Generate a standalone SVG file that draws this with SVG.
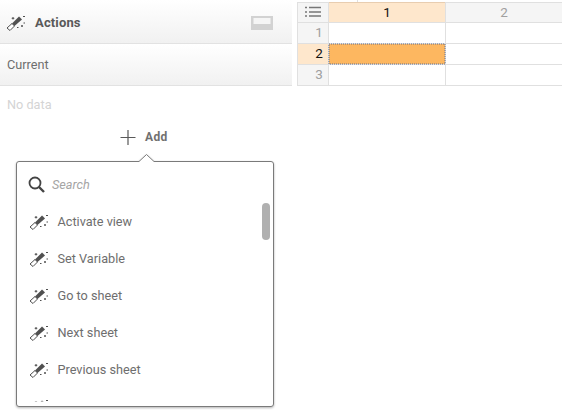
<svg xmlns="http://www.w3.org/2000/svg" width="562" height="411" viewBox="0 0 562 411">
<style>
text{font-family:"Roboto","Liberation Sans",sans-serif}
.item{font-size:12.7px;fill:#6e6e6e}
.hdr{font-size:13.5px;fill:#a0a0a0;text-anchor:middle}
.sel{fill:#111}
.gl{stroke:#e0e0e0;stroke-width:1;fill:none}
</style>
<defs>
<linearGradient id="g" x1="0" y1="0" x2="0" y2="1"><stop offset="0" stop-color="#fff"/><stop offset="1" stop-color="#f1f1f1"/></linearGradient>
<filter id="sh" x="-5%" y="-5%" width="110%" height="110%"><feDropShadow dx="0" dy="1" stdDeviation="1" flood-color="#000" flood-opacity=".3"/></filter>
<clipPath id="list"><rect x="17" y="163" width="256" height="238.500"/></clipPath>
<g id="wand">
<path d="M-8.500 5L-5.500 7.500L-1 3L-3.500 0.500Z" fill="#fff" stroke="#505050" stroke-width="1"/>
<path d="M-3.500 0.500L3.500 -6.500L6.500 -3.500L-1 3Z" fill="#505050"/>
<path d="M4 -6.500L6 -4.500" stroke="#ddd" stroke-width="1"/>
<path d="M-2.500 -6v2.500M-3.800 -4.700h2.600M7.500 -6.500h2M6.500 2v2M5.500 3h2M8 0h1.500M1.500 4.500h1.500" stroke="#505050" stroke-width="1" fill="none"/>
</g>
</defs>
<rect width="562" height="411" fill="#fff"/>
<g id="actions-header">
<rect x="0" y="0" width="292" height="43" fill="url(#g)"/>
<line x1="0" y1="43.500" x2="292" y2="43.500" stroke="#e2e2e2"/>
<use href="#wand" x="15.500" y="23"/>
<text x="35" y="27" font-size="13" font-weight="700" fill="#595959" letter-spacing=".15">Actions</text>
<rect x="251" y="16" width="22" height="14" fill="#d2d2d2"/>
<rect x="253.500" y="18" width="17" height="6" fill="#f5f5f5"/>
</g>
<g id="current-row">
<rect x="0" y="44" width="292" height="41" fill="url(#g)"/>
<line x1="0" y1="85.500" x2="292" y2="85.500" stroke="#e2e2e2"/>
<text x="7" y="69" font-size="12.700" fill="#6e6e6e">Current</text>
</g>
<g id="no-data"><text x="7" y="109" font-size="12.700" fill="#d4d4d4">No data</text></g>
<g id="add">
<path d="M128 130v15M120.500 137.500h15" stroke="#595959" stroke-width="1.200" fill="none"/>
<text x="145" y="141" font-size="12" font-weight="700" fill="#707070" letter-spacing=".35">Add</text>
</g>
<g id="grid">
<rect x="297" y="3" width="265" height="19" fill="#f5f5f5"/>
<rect x="329" y="3" width="116" height="19" fill="#fee7cc"/>
<rect x="297" y="22" width="31" height="63" fill="#f5f5f5"/>
<rect x="297" y="44" width="31" height="20" fill="#fee7cc"/>
<rect x="329" y="44" width="116" height="20" fill="#fdb760"/>
<path class="gl" d="M297 2.500H562M297 22.500H562M297 43.500H562M297 64.500H562M297 85.500H562M297.500 3V86M328.500 3V86M445.500 3V86M357.500 0V2"/>
<path d="M329 2.500H445" stroke="#e8cdb0"/>
<rect x="329" y="44" width="116" height="20" fill="none" stroke="#66708f" stroke-dasharray="1 1"/>
<path d="M309 7.500h12M309 12h12M309 16h12" stroke="#777" stroke-width="1.500"/>
<path d="M305 7.500h2M305 12h2M305 16h2" stroke="#777" stroke-width="1.500"/>
<text x="387" y="17" class="hdr sel">1</text>
<text x="504" y="17" class="hdr">2</text>
<text x="319" y="37" class="hdr">1</text>
<text x="319" y="58" class="hdr sel">2</text>
<text x="319" y="79" class="hdr">3</text>
</g>
<g id="popup">
<path d="M19 161.500H139L146.500 154.500L154 161.500H271Q273.500 161.500 273.500 164V404Q273.500 406.500 271 406.500H19Q16.500 406.500 16.500 404V164Q16.500 161.500 19 161.500Z" fill="#fff" stroke="#7a7a7a" filter="url(#sh)"/>
<circle cx="35" cy="183" r="5.500" fill="none" stroke="#444" stroke-width="1.800"/>
<path d="M39 187L44 192" stroke="#444" stroke-width="2.400"/>
<text x="52" y="189" font-size="12.700" font-style="italic" fill="#a5a5a5">Search</text>
<rect x="262" y="203" width="8" height="37" rx="4" fill="#b0b0b0"/>
<g id="item-activate-view"><use href="#wand" x="38.500" y="222"/><text x="57.500" y="226" class="item">Activate view</text></g>
<g id="item-set-variable"><use href="#wand" x="38.500" y="259"/><text x="57.500" y="263" class="item">Set Variable</text></g>
<g id="item-go-to-sheet"><use href="#wand" x="38.500" y="296"/><text x="57.500" y="300" class="item">Go to sheet</text></g>
<g id="item-next-sheet"><use href="#wand" x="38.500" y="333"/><text x="57.500" y="337" class="item">Next sheet</text></g>
<g id="item-previous-sheet"><use href="#wand" x="38.500" y="370"/><text x="57.500" y="374" class="item">Previous sheet</text></g>
<g id="item-go-to-story" clip-path="url(#list)"><use href="#wand" x="38.500" y="407"/><text x="57.500" y="411" class="item">Go to story</text></g>
</g>
</svg>
